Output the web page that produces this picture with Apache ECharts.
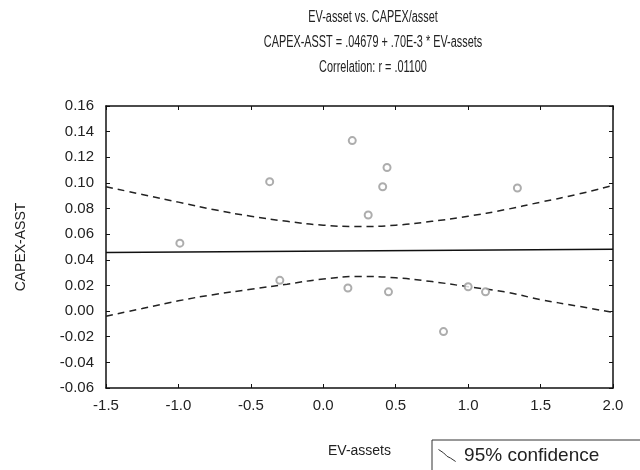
<!DOCTYPE html>
<html><head><meta charset="utf-8">
<script src="https://cdn.jsdelivr.net/npm/echarts@6/dist/echarts.min.js"></script>
<style>html,body{margin:0;padding:0;background:#fff}#c{width:640px;height:470px}</style>
</head><body><div id="c"></div>
<script>
const titleLines = ['EV-asset vs. CAPEX/asset', 'CAPEX-ASST = .04679 + .70E-3 * EV-assets', 'Correlation: r = .01100'];
const xTicks = [-1.5, -1.0, -0.5, 0.0, 0.5, 1.0, 1.5, 2.0];
const yTicks = [-0.06, -0.04, -0.02, 0.00, 0.02, 0.04, 0.06, 0.08, 0.10, 0.12, 0.14, 0.16];
const pointsX = [0.20, 0.44, 0.41, -0.37, 0.31, 1.34, -0.99, -0.30, 0.17, 0.45, 1.00, 1.12, 0.83];
const pointsY = [0.133, 0.112, 0.097, 0.101, 0.075, 0.096, 0.053, 0.024, 0.018, 0.015, 0.019, 0.015, -0.016];
const fitX = [-1.5, 2.0];
const fitY = [0.04574, 0.04819];
const bandX = [-1.5, -1.25, -1.0, -0.75, -0.5, -0.25, 0, 0.25, 0.5, 0.75, 1.0, 1.25, 1.5, 1.75, 2.0];
const upperY = [0.097, 0.091, 0.085, 0.079, 0.074, 0.070, 0.067, 0.066, 0.067, 0.070, 0.074, 0.079, 0.085, 0.091, 0.098];
const lowerY = [-0.004, 0.002, 0.008, 0.013, 0.017, 0.021, 0.025, 0.027, 0.026, 0.023, 0.019, 0.015, 0.009, 0.004, -0.001];
const legendLabel = '95% confidence';
const xName = 'EV-assets', yName = 'CAPEX-ASST';

const zip = (a, b) => a.map((v, i) => [v, b[i]]);
const font = 'Liberation Sans, Arial, sans-serif';
const txt = '#222';
const chart = echarts.init(document.getElementById('c'), null, {renderer: 'canvas'});
const axisCommon = {
  axisLine: {show: true, onZero: false, lineStyle: {color: '#111', width: 1.5}},
  axisTick: {show: true, inside: true, length: 4, lineStyle: {color: '#111'}},
  splitLine: {show: false}
};
chart.setOption({
  animation: false,
  backgroundColor: '#fff',
  graphic: titleLines.map((t, i) => ({
    type: 'text', x: 373, y: 18 + i * 25, scaleX: 0.68,
    style: {text: t, fontFamily: font, fontSize: 16, fill: txt, textAlign: 'center', textVerticalAlign: 'middle'}
  })),
  grid: {left: 106, right: 27, top: 106, bottom: 82},
  legend: {
    data: [{name: legendLabel, icon: 'path://M0,0 L6,4 L10,8 L14,10 L20,14', itemStyle: {color: 'transparent', borderColor: '#333', borderWidth: 1}}],
    left: 432, top: 440, padding: [6, 45, 12, 6],
    borderColor: '#333', borderWidth: 1, itemWidth: 24, itemHeight: 12, itemGap: 6,
    textStyle: {fontFamily: font, fontSize: 19, color: txt}
  },
  xAxis: [
    Object.assign({type: 'value', min: -1.5, max: 2.0, interval: 0.5, position: 'bottom',
      axisLabel: {fontFamily: font, fontSize: 15, color: txt, margin: 10, formatter: v => v.toFixed(1)},
      name: xName, nameLocation: 'middle', nameGap: 56,
      nameTextStyle: {fontFamily: font, fontSize: 14, color: txt}}, axisCommon),
    Object.assign({type: 'value', min: -1.5, max: 2.0, interval: 0.5, position: 'top', axisLabel: {show: false}}, axisCommon)
  ],
  yAxis: [
    Object.assign({type: 'value', min: -0.06, max: 0.16, interval: 0.02, position: 'left',
      axisLabel: {fontFamily: font, fontSize: 15, color: txt, margin: 12, formatter: v => v.toFixed(2)},
      name: yName, nameLocation: 'middle', nameGap: 78, nameRotate: 90,
      nameTextStyle: {fontFamily: font, fontSize: 14, color: txt}}, axisCommon),
    Object.assign({type: 'value', min: -0.06, max: 0.16, interval: 0.02, position: 'right', axisLabel: {show: false}}, axisCommon)
  ],
  series: [
    {type: 'scatter', data: zip(pointsX, pointsY), symbol: 'emptyCircle', symbolSize: 7,
     itemStyle: {color: '#999', borderColor: '#999', borderWidth: 1}, z: 3},
    {type: 'line', data: zip(fitX, fitY), symbol: 'none', lineStyle: {color: '#111', width: 1.5}},
    {name: legendLabel, type: 'line', data: zip(bandX, upperY), smooth: true, symbol: 'none',
     lineStyle: {color: '#222', width: 1.5, type: [7, 5]}},
    {name: legendLabel, type: 'line', data: zip(bandX, lowerY), smooth: true, symbol: 'none',
     lineStyle: {color: '#222', width: 1.5, type: [7, 5]}}
  ]
});
</script></body></html>
